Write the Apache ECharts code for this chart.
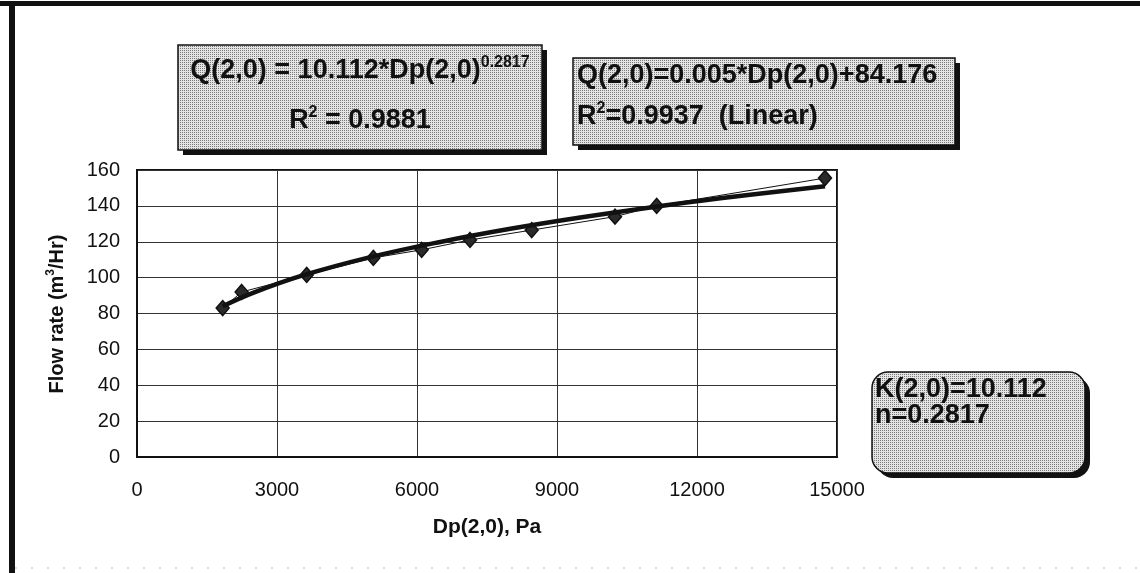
<!DOCTYPE html>
<html>
<head>
<meta charset="utf-8">
<script src="https://cdn.jsdelivr.net/npm/echarts@6/dist/echarts.min.js"></script>
<style>
  html, body { margin: 0; padding: 0; background: #fff; }
  #main { width: 1140px; height: 573px; }
</style>
</head>
<body>
<div id="main"></div>
<script>
// measured points, Dp(2,0) in Pa and Q(2,0) in m3/Hr
const dpValues = [1836, 2243, 3636, 5064, 6100, 7136, 8458, 10243, 11136, 14743]
const flowValues = [83, 92, 101.5, 111, 115.5, 121, 126.5, 134, 140, 155.5]

// power trend line
const trendDp = [1836, 2500, 3500, 5000, 6500, 8000, 9500, 11000, 12500, 14743]
const trendFlow = [84, 91.6, 100.8, 111.4, 119.9, 127.2, 133.5, 139.1, 144.2, 151]

const xTicks = [0, 3000, 6000, 9000, 12000, 15000]
const yTicks = [0, 20, 40, 60, 80, 100, 120, 140, 160]

const FONT = 'Liberation Sans, Arial, sans-serif'

// halftone-ish fill for the text boxes
function dotPattern () {
  const c = document.createElement('canvas')
  c.width = 2
  c.height = 2
  const ctx = c.getContext('2d')
  ctx.fillStyle = '#e4e4e4'
  ctx.fillRect(0, 0, 2, 2)
  ctx.fillStyle = '#7a7a7a'
  ctx.fillRect(0, 0, 1, 1)
  return { image: c, repeat: 'repeat' }
}

const chart = echarts.init(document.getElementById('main'))
const pat = dotPattern()

function box (x, y, w, h, r) {
  return [
    { type: 'rect', shape: { x: x + 5, y: y + 5, width: w, height: h, r: r }, style: { fill: '#111' }, z: 10 },
    { type: 'rect', shape: { x: x, y: y, width: w, height: h, r: r }, style: { fill: pat, stroke: '#111', lineWidth: 1.5 }, z: 11 }
  ]
}

const rich = {
  a: { fontSize: 27, fontWeight: 'bold', fontFamily: FONT, fill: '#111', lineHeight: 32 },
  s: { fontSize: 16, fontWeight: 'bold', fontFamily: FONT, fill: '#111', verticalAlign: 'top', lineHeight: 12 }
}

function label (x, y, text, align) {
  return {
    type: 'text',
    x: x,
    y: y,
    z: 12,
    style: { text: text, rich: rich, align: align, verticalAlign: 'middle', fontFamily: FONT }
  }
}

const graphics = [
  // frame
  { type: 'rect', shape: { x: 0, y: 1, width: 1140, height: 5 }, style: { fill: '#111' } },
  { type: 'rect', shape: { x: 9, y: 1, width: 6, height: 572 }, style: { fill: '#111' } },
  { type: 'line', shape: { x1: 15, y1: 568, x2: 1140, y2: 568 }, style: { stroke: '#bbb', lineWidth: 1, lineDash: [2, 14] } }
]
  .concat(box(178, 45, 364, 105, 0))
  .concat(box(573, 58, 382, 87, 0))
  .concat(box(872, 372, 213, 101, 16))
  .concat([
    label(360, 71, '{a|Q(2,0) = 10.112*Dp(2,0)}{s|0.2817}', 'center'),
    label(360, 121, '{a|R}{s|2}{a| = 0.9881}', 'center'),
    label(577, 76, '{a|Q(2,0)=0.005*Dp(2,0)+84.176}', 'left'),
    label(577, 117, '{a|R}{s|2}{a|=0.9937  (Linear)}', 'left'),
    label(875, 390, '{a|K(2,0)=10.112}', 'left'),
    label(875, 416, '{a|n=0.2817}', 'left'),
    // rotated y axis name with superscript
    {
      type: 'text',
      x: 57,
      y: 314,
      rotation: Math.PI / 2,
      z: 12,
      style: {
        text: '{b|Flow rate (m}{t|3}{b|/Hr)}',
        align: 'center',
        verticalAlign: 'middle',
        rich: {
          b: { fontSize: 20, fontWeight: 'bold', fontFamily: FONT, fill: '#111', lineHeight: 24 },
          t: { fontSize: 12, fontWeight: 'bold', fontFamily: FONT, fill: '#111', verticalAlign: 'top', lineHeight: 10 }
        }
      }
    }
  ])

chart.setOption({
  animation: false,
  backgroundColor: '#fff',
  grid: { left: 137, right: 303, top: 170, bottom: 116, show: true, borderColor: '#111', borderWidth: 2 },
  xAxis: {
    type: 'value',
    min: xTicks[0],
    max: xTicks[xTicks.length - 1],
    interval: 3000,
    name: 'Dp(2,0), Pa',
    nameLocation: 'middle',
    nameGap: 60,
    nameTextStyle: { fontSize: 21, fontWeight: 'bold', fontFamily: FONT, color: '#111' },
    axisLine: { show: true, onZero: false, lineStyle: { color: '#111', width: 2 } },
    axisTick: { show: false },
    axisLabel: { fontSize: 20, fontFamily: FONT, color: '#111', margin: 23, formatter: v => String(v) },
    splitLine: { show: true, lineStyle: { color: '#333', width: 1 } }
  },
  yAxis: {
    type: 'value',
    min: yTicks[0],
    max: yTicks[yTicks.length - 1],
    interval: 20,
    axisLine: { show: true, lineStyle: { color: '#111', width: 2 } },
    axisTick: { show: false },
    axisLabel: { fontSize: 20, fontFamily: FONT, color: '#111', margin: 17 },
    splitLine: { show: true, lineStyle: { color: '#333', width: 1 } }
  },
  graphic: graphics,
  series: [
    {
      name: 'data',
      type: 'line',
      data: dpValues.map((d, i) => [d, flowValues[i]]),
      symbol: 'diamond',
      symbolSize: [13, 15],
      itemStyle: { color: '#2a2a2a', borderColor: '#111', borderWidth: 1.5 },
      lineStyle: { color: '#111', width: 1 },
      z: 3
    },
    {
      name: 'power trend',
      type: 'line',
      data: trendDp.map((d, i) => [d, trendFlow[i]]),
      smooth: 0.4,
      symbol: 'none',
      lineStyle: { color: '#111', width: 4.5 },
      z: 4
    }
  ]
})
</script>
</body>
</html>
